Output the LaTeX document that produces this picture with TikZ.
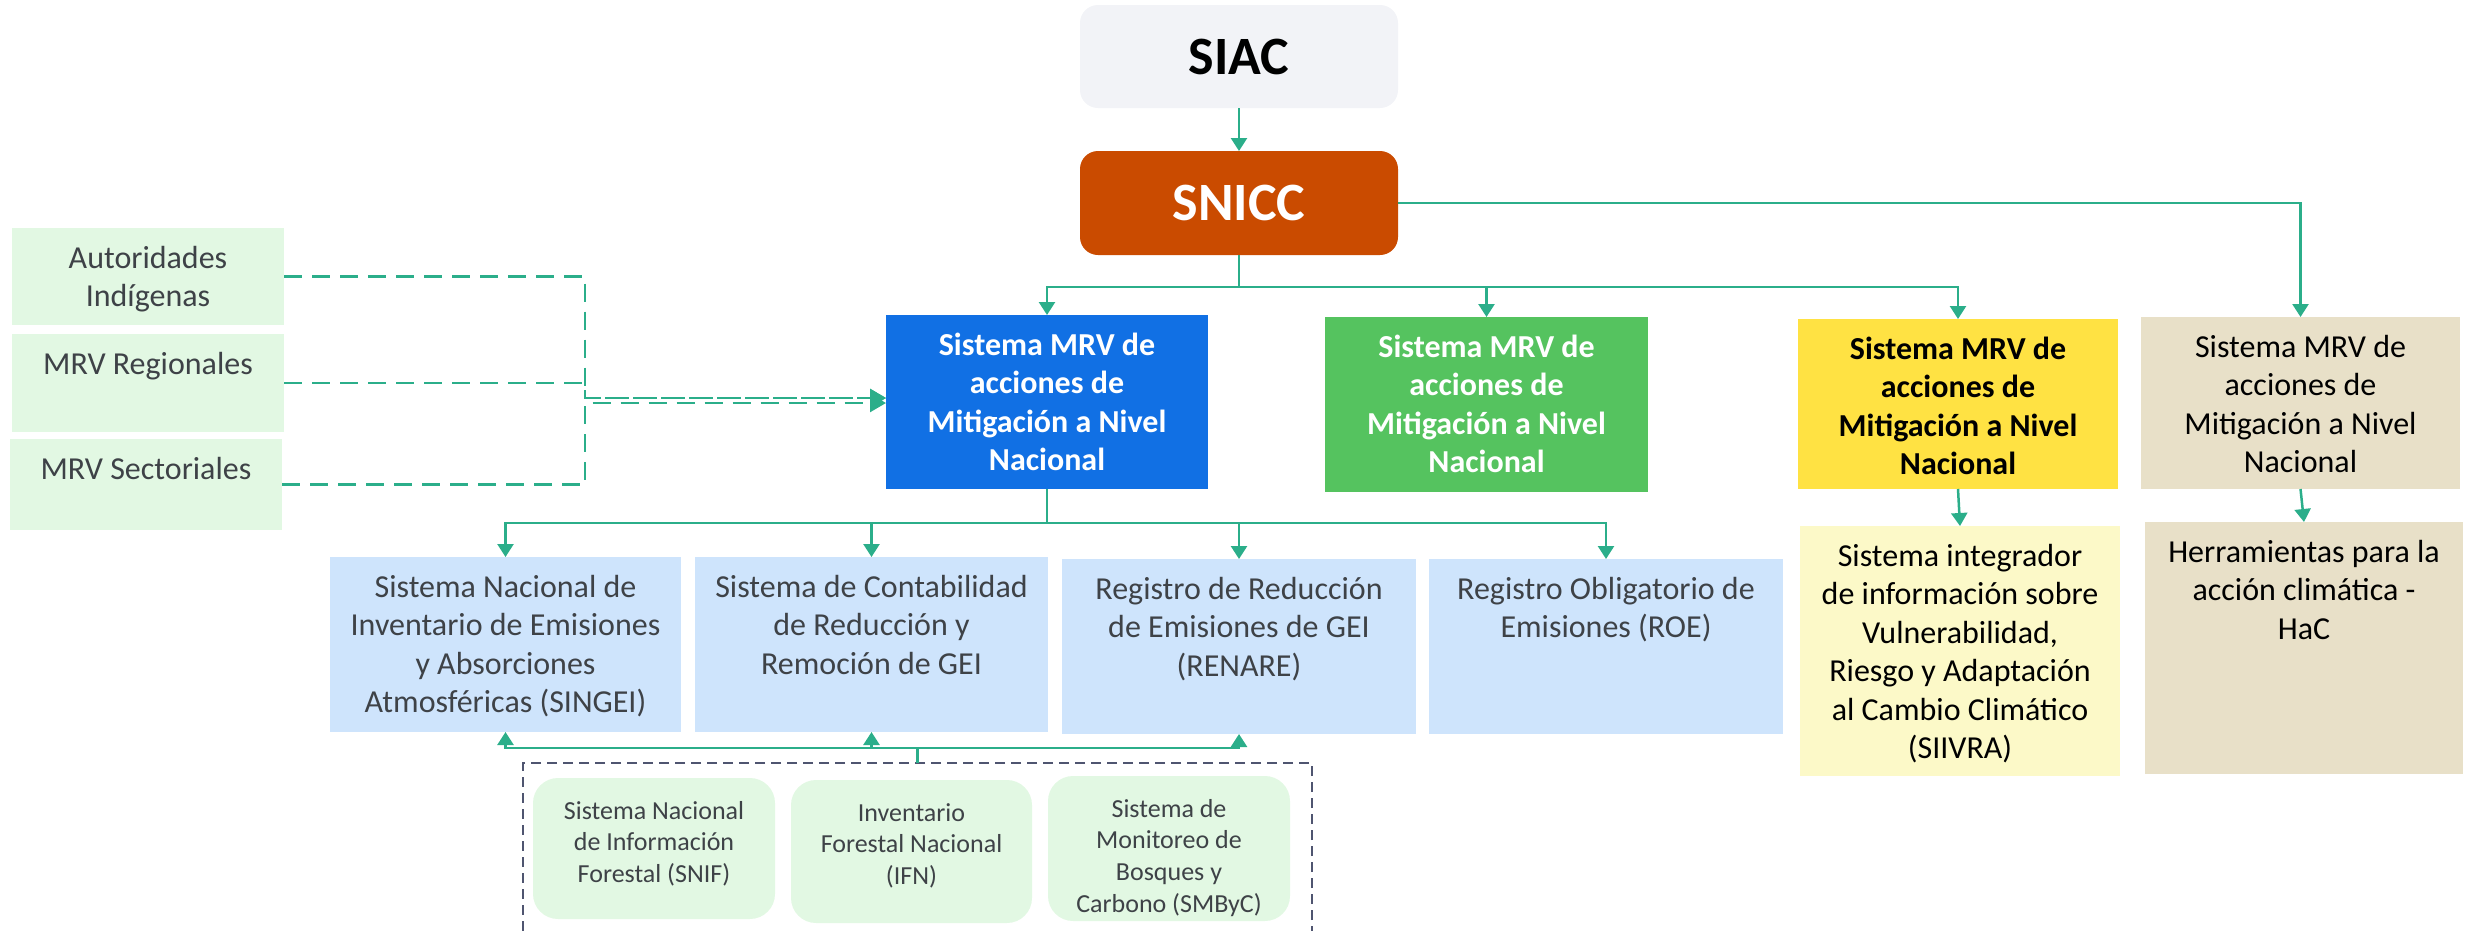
\documentclass[tikz,border=0pt]{standalone}
\usepackage{fontspec}
\setmainfont{Carlito}
\usetikzlibrary{arrows.meta}
\definecolor{conn}{HTML}{2BAE8A}
\definecolor{siacfill}{HTML}{F2F3F7}
\definecolor{snicfill}{HTML}{CA4B00}
\definecolor{bluefill}{HTML}{1170E4}
\definecolor{greenfill}{HTML}{55C35F}
\definecolor{yelfill}{HTML}{FFE243}
\definecolor{tanfill}{HTML}{E8E0C8}
\definecolor{lbfill}{HTML}{CEE4FC}
\definecolor{lyfill}{HTML}{FCF9C8}
\definecolor{lgfill}{HTML}{E2F8E3}
\definecolor{txtgray}{HTML}{3E4247}
\definecolor{dboxcol}{HTML}{4F5570}
\newcommand\tb[4][40pt]{\parbox[t][#3][t]{#2}{\centering\rule{0pt}{#1}#4\par}}
\tikzset{
  x=1pt,y=-1pt,
  box/.style={inner sep=0pt,outer sep=0pt,anchor=north west},
  big/.style={font=\fontsize{32}{38.5}\selectfont},
  bigb/.style={font=\fontsize{32}{38.5}\selectfont\bfseries},
  small/.style={font=\fontsize{26}{31.7}\selectfont},
  arr/.style={draw=conn,line width=2.5pt,-{Triangle[width=16pt,length=13pt]}},
  ln/.style={draw=conn,line width=2.5pt},
  darr/.style={draw=conn,line width=2.5pt,dash pattern=on 18pt off 10pt,-{Triangle[width=18pt,length=16pt]}},
  topbox/.style={rounded corners=18pt,inner sep=0pt,outer sep=0pt,minimum width=318pt,font=\fontsize{54}{60}\selectfont\bfseries},
}
\begin{document}
\begin{tikzpicture}
\useasboundingbox (0,0) rectangle (2471,930);
% top
\node[topbox,fill=siacfill,minimum height=103pt,text=black] (siac) at (1239,56.5) {SIAC};
\node[topbox,fill=snicfill,minimum height=104pt,text=white] (snicc) at (1239,203) {SNICC};
% second row
\node[box,bigb,fill=bluefill,text=white] (blue) at (886,315) {\tb{322pt}{174pt}{Sistema MRV de\\acciones de\\Mitigación a Nivel\\Nacional}};
\node[box,bigb,fill=greenfill,text=white] (green) at (1325,317) {\tb{323pt}{175pt}{Sistema MRV de\\acciones de\\Mitigación a Nivel\\Nacional}};
\node[box,bigb,fill=yelfill,text=black] (yellow) at (1798,319) {\tb{320pt}{170pt}{Sistema MRV de\\acciones de\\Mitigación a Nivel\\Nacional}};
\node[box,big,fill=tanfill,text=black] (tan) at (2141,317) {\tb{319pt}{172pt}{Sistema MRV de\\acciones de\\Mitigación a Nivel\\Nacional}};
% left boxes
\node[box,big,fill=lgfill,text=txtgray] (aut) at (12,228) {\tb{272pt}{97pt}{Autoridades\\Indígenas}};
\node[box,big,fill=lgfill,text=txtgray] (reg) at (12,334) {\tb{272pt}{98pt}{MRV Regionales}};
\node[box,big,fill=lgfill,text=txtgray] (sec) at (10,439) {\tb{272pt}{91pt}{MRV Sectoriales}};
% third row
\node[box,big,fill=lbfill,text=txtgray] (singei) at (330,557) {\tb{351pt}{175pt}{Sistema Nacional de\\Inventario de Emisiones\\y Absorciones\\Atmosféricas (SINGEI)}};
\node[box,big,fill=lbfill,text=txtgray] (contab) at (695,557) {\tb{353pt}{175pt}{Sistema de Contabilidad\\de Reducción y\\Remoción de GEI}};
\node[box,big,fill=lbfill,text=txtgray] (renare) at (1062,559) {\tb{354pt}{175pt}{Registro de Reducción\\de Emisiones de GEI\\(RENARE)}};
\node[box,big,fill=lbfill,text=txtgray] (roe) at (1429,559) {\tb{354pt}{175pt}{Registro Obligatorio de\\Emisiones (ROE)}};
\node[box,big,fill=lyfill,text=black] (siivra) at (1800,526) {\tb{320pt}{250pt}{Sistema integrador\\de información sobre\\Vulnerabilidad,\\Riesgo y Adaptación\\al Cambio Climático\\(SIIVRA)}};
\node[box,big,fill=tanfill,text=black] (hac) at (2145,522) {\tb{318pt}{252pt}{Herramientas para la\\acción climática -\\HaC}};
% group
\node[box,draw=dboxcol,line width=1.5pt,dash pattern=on 10pt off 6pt,minimum width=789pt,minimum height=200pt] (grp) at (523,763) {};
\node[box,small,fill=lgfill,text=txtgray,rounded corners=25pt] (snif) at (533,778) {\tb[41pt]{242pt}{141pt}{Sistema Nacional\\de Información\\Forestal (SNIF)}};
\node[box,small,fill=lgfill,text=txtgray,rounded corners=25pt] (ifn) at (791,780) {\tb[41pt]{241pt}{143pt}{Inventario\\Forestal Nacional\\(IFN)}};
\node[box,small,fill=lgfill,text=txtgray,rounded corners=25pt] (smbyc) at (1048,776) {\tb[41pt]{242pt}{145pt}{Sistema de\\Monitoreo de\\Bosques y\\Carbono (SMByC)}};
% connectors
\draw[arr] (siac.south) -- (snicc.north);
\coordinate (j1) at (1239,287);
\draw[ln] (snicc.south) -- (j1);
\draw[arr] (j1) -| (blue.north);
\draw[arr] (j1) -| (yellow.north);
\draw[arr] (green.north |- j1) -- (green.north);
\draw[arr] (snicc.east) -| (tan.north);
\coordinate (j2) at (blue.south |- 0,523);
\draw[ln] (blue.south) -- (j2);
\draw[arr] (j2) -| (singei.north);
\draw[arr] (j2) -| (roe.north);
\draw[arr] (contab.north |- j2) -- (contab.north);
\draw[arr] (renare.north |- j2) -- (renare.north);
\draw[arr] (yellow.south) -- (siivra.north);
\draw[arr] (tan.south) -- (hac.north);
\coordinate (j3) at (grp.north |- 0,748);
\draw[ln] (grp.north) -- (j3);
\draw[arr] (j3) -| (singei.south);
\draw[arr] (j3) -| (renare.south);
\draw[arr] (contab.south |- j3) -- (contab.south);
% dashed inputs
\coordinate (da) at (585,398);
\coordinate (db) at (585,403);
\draw[darr] (aut.east) -| (da) -- (da -| blue.west);
\draw[darr] (reg.east) -| (da) -- (da -| blue.west);
\draw[darr] (sec.east) -| (db) -- (db -| blue.west);
\end{tikzpicture}
\end{document}
